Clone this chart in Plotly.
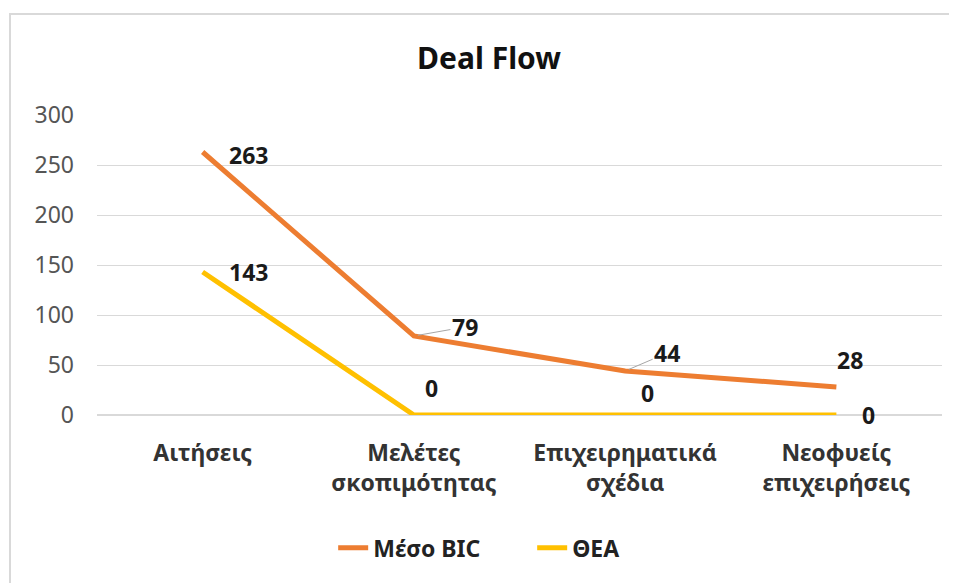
import plotly.graph_objects as go

# Deal flow data
categories = ["Αιτήσεις", "Μελέτες<br>σκοπιμότητας", "Επιχειρηματικά<br>σχέδια", "Νεοφυείς<br>επιχειρήσεις"]
meso_bic = [263, 79, 44, 28]
thea = [143, 0, 0, 0]
y_ticks = [0, 50, 100, 150, 200, 250, 300]

ORANGE = "#ED7D31"
YELLOW = "#FFC000"
FONT = "Noto Sans"
LBL = dict(family=FONT, size=23, color="#1a1a1a", weight="bold")

fig = go.Figure()
fig.add_trace(go.Scatter(x=categories, y=meso_bic, name="Μέσο BIC", mode="lines",
                         line=dict(color=ORANGE, width=5)))
fig.add_trace(go.Scatter(x=categories, y=thea, name="ΘΕΑ", mode="lines",
                         line=dict(color=YELLOW, width=5)))

# data label offsets in pixels from each point (dx, dy up, leader line)
bic_offsets = [(46, -3, False), (51, 9, True), (42, 18, True), (14, 27, False)]
thea_offsets = [(46, 0), (18, 27), (22, 22), (32, 0)]

for cat, val, (dx, dy, leader) in zip(categories, meso_bic, bic_offsets):
    if leader:
        fig.add_annotation(x=cat, y=val, text=str(val), showarrow=True,
                           ax=dx, ay=-dy, arrowhead=0, arrowwidth=1, arrowcolor="#a6a6a6",
                           standoff=4, font=LBL)
    else:
        fig.add_annotation(x=cat, y=val, text=str(val), showarrow=False,
                           xshift=dx, yshift=dy, font=LBL)

for cat, val, (dx, dy) in zip(categories, thea, thea_offsets):
    fig.add_annotation(x=cat, y=val, text=str(val), showarrow=False,
                       xshift=dx, yshift=dy, font=LBL)

# outer chart border (page has an 8px body margin, plot area is 845x300 at 89,107)
fig.add_shape(type="rect", xref="paper", yref="paper",
              x0=(2 - 89) / 845, x1=(990 - 89) / 845, y0=(407 - 620) / 300, y1=(407 - 6) / 300,
              line=dict(color="#d9d9d9", width=2), layer="below")

fig.update_layout(
    width=957, height=583,
    margin=dict(l=89, r=23, t=107, b=176),
    paper_bgcolor="white", plot_bgcolor="white",
    title=dict(text="Deal Flow", x=481 / 957, xref="container", xanchor="center",
               y=1 - 50 / 583, yanchor="middle",
               font=dict(family=FONT, size=30, color="#111", weight="bold")),
    showlegend=True,
    legend=dict(orientation="h", x=0.515, xanchor="center", y=-0.443, yanchor="middle",
                entrywidth=154, entrywidthmode="pixels",
                font=dict(family=FONT, size=23, color="#222", weight="bold")),
    font=dict(family=FONT),
)
fig.update_xaxes(type="category", range=[-0.5, 3.5], showgrid=False, showline=False,
                 ticks="", ticklabelstandoff=22,
                 tickfont=dict(family=FONT, size=23, color="#333", weight="bold"))
fig.update_yaxes(range=[0, 300], tickvals=y_ticks, showgrid=True, gridcolor="#d9d9d9",
                 gridwidth=1, zeroline=True, zerolinecolor="#d9d9d9", ticks="",
                 tickfont=dict(family=FONT, size=23, color="#555"), ticklabelstandoff=22)

fig.write_html("out.html")
